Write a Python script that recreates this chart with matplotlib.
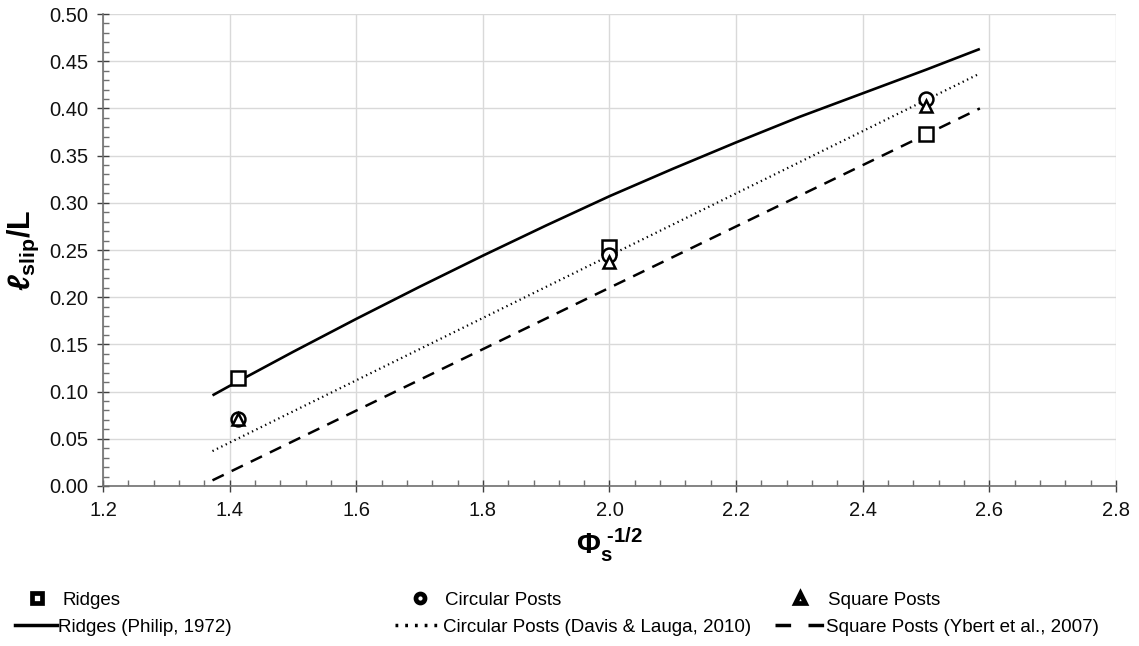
import matplotlib.pyplot as plt
from matplotlib.lines import Line2D
from matplotlib.ticker import MultipleLocator, AutoMinorLocator

plt.rcParams['font.family'] = ['Liberation Sans', 'DejaVu Sans']
plt.rcParams['mathtext.fontset'] = 'custom'
plt.rcParams['mathtext.rm'] = 'Liberation Sans:bold'
plt.rcParams['mathtext.bf'] = 'Liberation Sans:bold'
plt.rcParams['mathtext.it'] = 'Liberation Sans:italic:bold'

# measured points
x_pts = [1.414, 2.0, 2.5]
ridges = [0.114, 0.253, 0.373]
circular = [0.071, 0.245, 0.410]
square = [0.071, 0.237, 0.403]

# model curves
philip_x = [1.373, 1.4, 1.5, 1.6, 1.7, 1.8, 1.9, 2.0, 2.1, 2.2, 2.3, 2.4, 2.5, 2.585]
philip_y = [0.096, 0.106, 0.142, 0.177, 0.211, 0.244, 0.276, 0.307, 0.336, 0.364, 0.391, 0.416, 0.441, 0.463]
davis_x = [1.373, 2.0, 2.585]
davis_y = [0.037, 0.244, 0.437]
ybert_x = [1.373, 2.0, 2.585]
ybert_y = [0.006, 0.210, 0.400]

fig = plt.figure(figsize=(11.39, 6.46), dpi=100)
ax = fig.add_axes([0.0904, 0.2477, 0.8894, 0.7306])

ax.plot(philip_x, philip_y, color='black', lw=1.9, solid_capstyle='butt', solid_joinstyle='round')
ax.plot(davis_x, davis_y, color='black', lw=1.6, linestyle=(0, (0.6, 1.6)))
ax.plot(ybert_x, ybert_y, color='black', lw=1.8, linestyle=(0, (5, 3.5)))

mk = dict(color='black', markerfacecolor='white', markeredgewidth=1.8, linestyle='none')
ax.plot(x_pts, ridges, marker='s', markersize=10, zorder=3, **mk)
ax.plot(x_pts, circular, marker='o', markersize=10, zorder=4, **mk)
ax.plot(x_pts, square, marker='^', markersize=9, zorder=5, **mk)

ax.set_xlim(1.2, 2.8)
ax.set_ylim(0, 0.5)
ax.xaxis.set_major_locator(MultipleLocator(0.2))
ax.yaxis.set_major_locator(MultipleLocator(0.05))
ax.xaxis.set_minor_locator(AutoMinorLocator(5))
ax.yaxis.set_minor_locator(AutoMinorLocator(5))
ax.xaxis.set_major_formatter(lambda v, p: f'{v:.1f}')
ax.yaxis.set_major_formatter(lambda v, p: f'{v:.2f}')

ax.grid(True, which='major', color='#d9d9d9', lw=1)
ax.set_axisbelow(True)
for s in ['top', 'right']:
    ax.spines[s].set_visible(False)
for s in ['left', 'bottom']:
    ax.spines[s].set_color('#707070')
    ax.spines[s].set_linewidth(1.2)
ax.tick_params(which='major', direction='inout', length=9, width=1, color='#404040',
               labelsize=14.5, labelcolor='#111111', pad=6)
ax.tick_params(which='minor', direction='in', length=4, width=1, color='#707070')

ax.set_xlabel(r'$\Phi_{\mathrm{s}}^{\ \text{-1/2}}$', fontsize=21, labelpad=4)
ax.set_ylabel(r'$\ell_{\mathrm{slip}}\mathrm{/L}$', fontsize=22, labelpad=6)

fs = 13.5
hm = dict(color='black', markerfacecolor='white', markeredgewidth=3.4, linestyle='none', markersize=6.5)
cols = [
    (15, Line2D([], [], marker='s', **hm), 'Ridges', 2.35, 0.2,
     Line2D([], [], color='black', lw=2.5), 'Ridges (Philip, 1972)', 2.24, 0.05),
    (395, Line2D([], [], marker='o', **hm), 'Circular Posts', 2.67, 0.0,
     Line2D([], [], color='black', lw=2.5, linestyle=(0, (0.8, 2.0))),
     'Circular Posts (Davis & Lauga, 2010)', 2.5, 0.05),
    (775, Line2D([], [], marker='^', **hm), 'Square Posts', 2.67, 0.15,
     Line2D([], [], color='black', lw=2.5, linestyle=(0, (4.5, 5))),
     'Square Posts (Ybert et al., 2007)', 2.67, 0.05),
]
for x0, h1, l1, hl1, tp1, h2, l2, hl2, tp2 in cols:
    for h, l, hl, tp, yc in [(h1, l1, hl1, tp1, 600), (h2, l2, hl2, tp2, 627)]:
        fig.legend([h], [l], loc='center left', bbox_to_anchor=(x0 / 1139, 1 - yc / 646),
                   frameon=False, fontsize=fs, handlelength=hl, handletextpad=tp,
                   borderpad=0, borderaxespad=0)

fig.savefig('out.png', dpi=100)
